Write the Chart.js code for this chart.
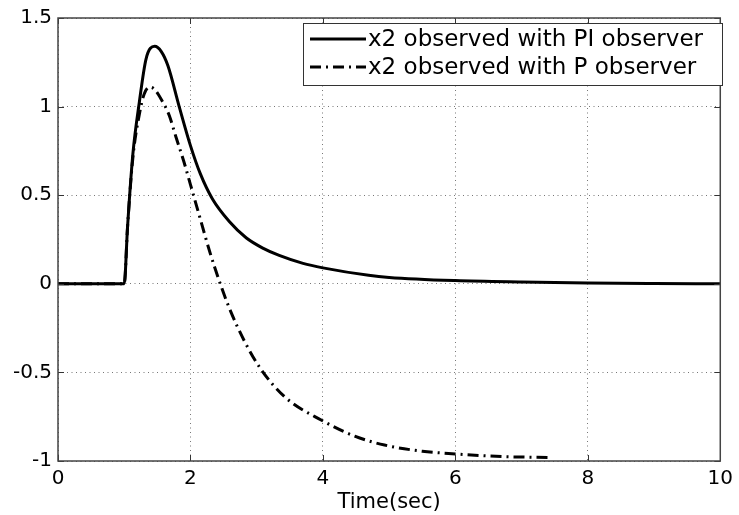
<!DOCTYPE html>
<html>
<head>
<meta charset="utf-8">
<title>x2 observed</title>
<script src="https://cdn.jsdelivr.net/npm/chart.js@4.4.0/dist/chart.umd.min.js"></script>
<style>
    html, body { margin: 0; padding: 0; background: #fff; }
    canvas { display: block; }
</style>
</head>
<body>
<canvas id="observerChart" width="739" height="515"></canvas>
<script>
// Data
const timePI = [0, 1, 1.05, 1.13, 1.23, 1.33, 1.46, 1.56, 1.66, 1.83, 2.0, 2.15, 2.33, 2.59, 2.84, 3.1, 3.34, 3.7, 4.0, 4.69, 5.0, 6.0, 7.0, 8.0, 9.0, 10];
const valuesPI = [0, 0, 0.32, 0.73, 1.03, 1.27, 1.34, 1.31, 1.23, 1.0, 0.78, 0.62, 0.48, 0.35, 0.26, 0.2, 0.16, 0.115, 0.09, 0.048, 0.036, 0.018, 0.01, 0.005, 0.002, 0];

const timeP = [0, 1, 1.05, 1.13, 1.23, 1.3, 1.38, 1.45, 1.56, 1.68, 1.78, 1.9, 2.0, 2.13, 2.3, 2.45, 2.59, 2.81, 3.06, 3.43, 3.98, 4.48, 4.93, 5.5, 6.0, 6.7, 7.4];
const valuesP = [0, 0, 0.32, 0.71, 0.96, 1.07, 1.11, 1.1, 1.04, 0.95, 0.83, 0.69, 0.56, 0.39, 0.17, 0.0, -0.14, -0.32, -0.48, -0.64, -0.77, -0.86, -0.91, -0.945, -0.96, -0.975, -0.98];

const seriesLabels = ['x2 observed with PI observer', 'x2 observed with P observer'];
const xTicks = [0, 2, 4, 6, 8, 10];
const yTicks = [-1, -0.5, 0, 0.5, 1, 1.5];
const xTitle = 'Time(sec)';

const FONT = "'DejaVu Sans', 'Liberation Sans', sans-serif";

function toPoints(xs, ys) {
    return xs.map((x, i) => ({ x: x, y: ys[i] }));
}

// khung hộp, vạch chia hướng vào trong và chú thích
const frameAndLegend = {
    id: 'frameAndLegend',
    afterDatasetsDraw(chart) {
        const { ctx, chartArea: a, scales } = chart;
        ctx.save();

        // tick marks pointing inward on all four sides
        ctx.strokeStyle = '#333';
        ctx.lineWidth = 1;
        ctx.beginPath();
        xTicks.forEach(v => {
            const px = Math.round(scales.x.getPixelForValue(v)) + 0.5;
            ctx.moveTo(px, a.bottom); ctx.lineTo(px, a.bottom - 6);
            ctx.moveTo(px, a.top); ctx.lineTo(px, a.top + 6);
        });
        yTicks.forEach(v => {
            const py = Math.round(scales.y.getPixelForValue(v)) + 0.5;
            ctx.moveTo(a.left, py); ctx.lineTo(a.left + 6, py);
            ctx.moveTo(a.right, py); ctx.lineTo(a.right - 6, py);
        });
        ctx.stroke();

        // box
        ctx.lineWidth = 1.5;
        ctx.strokeStyle = '#444';
        ctx.strokeRect(a.left, a.top, a.right - a.left, a.bottom - a.top);

        // legend
        const lx = 303.5, ly = 23.5, lw = 419, lh = 62;
        ctx.fillStyle = '#fff';
        ctx.fillRect(lx, ly, lw, lh);
        ctx.lineWidth = 1;
        ctx.strokeStyle = '#333';
        ctx.strokeRect(lx, ly, lw, lh);

        const rows = [39, 67];
        chart.data.datasets.forEach((ds, i) => {
            const y = rows[i];
            ctx.beginPath();
            ctx.setLineDash(ds.borderDash || []);
            ctx.lineWidth = ds.borderWidth;
            ctx.strokeStyle = ds.borderColor;
            ctx.moveTo(310, y);
            ctx.lineTo(366, y);
            ctx.stroke();
            ctx.setLineDash([]);
            ctx.fillStyle = '#000';
            ctx.font = '23px ' + FONT;
            ctx.textBaseline = 'middle';
            ctx.textAlign = 'left';
            ctx.fillText(ds.label, 368, y + 1);
        });

        ctx.restore();
    }
};

const ctx = document.getElementById('observerChart').getContext('2d');
const observerChart = new Chart(ctx, {
    type: 'line',
    data: {
        datasets: [{
            label: seriesLabels[0],
            data: toPoints(timePI, valuesPI),
            borderColor: '#000',
            borderWidth: 3,
            borderJoinStyle: 'round',
            pointRadius: 0,
            cubicInterpolationMode: 'monotone',
            fill: false
        }, {
            label: seriesLabels[1],
            data: toPoints(timeP, valuesP),
            borderColor: '#000',
            borderWidth: 3,
            borderDash: [11, 5, 2, 5],
            borderJoinStyle: 'round',
            pointRadius: 0,
            cubicInterpolationMode: 'monotone',
            fill: false
        }]
    },
    options: {
        responsive: false,
        animation: false,
        devicePixelRatio: 1,
        layout: { padding: { top: 15, right: 14, left: 0, bottom: 0 } },
        plugins: {
            legend: { display: false },
            tooltip: { enabled: false }
        },
        scales: {
            x: {
                type: 'linear',
                min: 0,
                max: 10,
                afterBuildTicks: s => { s.ticks = xTicks.map(v => ({ value: v })); },
                afterFit: s => { s.height = 54; },
                grid: { color: '#777', lineWidth: 1, drawTicks: false },
                border: { display: false, dash: [1, 3.5] },
                ticks: {
                    color: '#000',
                    padding: 6,
                    maxRotation: 0,
                    font: { family: FONT, size: 20 },
                    callback: v => String(v)
                },
                title: {
                    display: true,
                    text: xTitle,
                    color: '#000',
                    font: { family: FONT, size: 21 },
                    padding: { top: 0, bottom: 0 }
                }
            },
            y: {
                min: -1,
                max: 1.5,
                afterBuildTicks: s => { s.ticks = yTicks.map(v => ({ value: v })); },
                afterFit: s => { s.width = 58; },
                grid: { color: '#777', lineWidth: 1, drawTicks: false },
                border: { display: false, dash: [1, 3.5] },
                ticks: {
                    color: '#000',
                    padding: 6,
                    font: { family: FONT, size: 20 },
                    callback: v => String(v)
                }
            }
        }
    },
    plugins: [frameAndLegend]
});
</script>
</body>
</html>
